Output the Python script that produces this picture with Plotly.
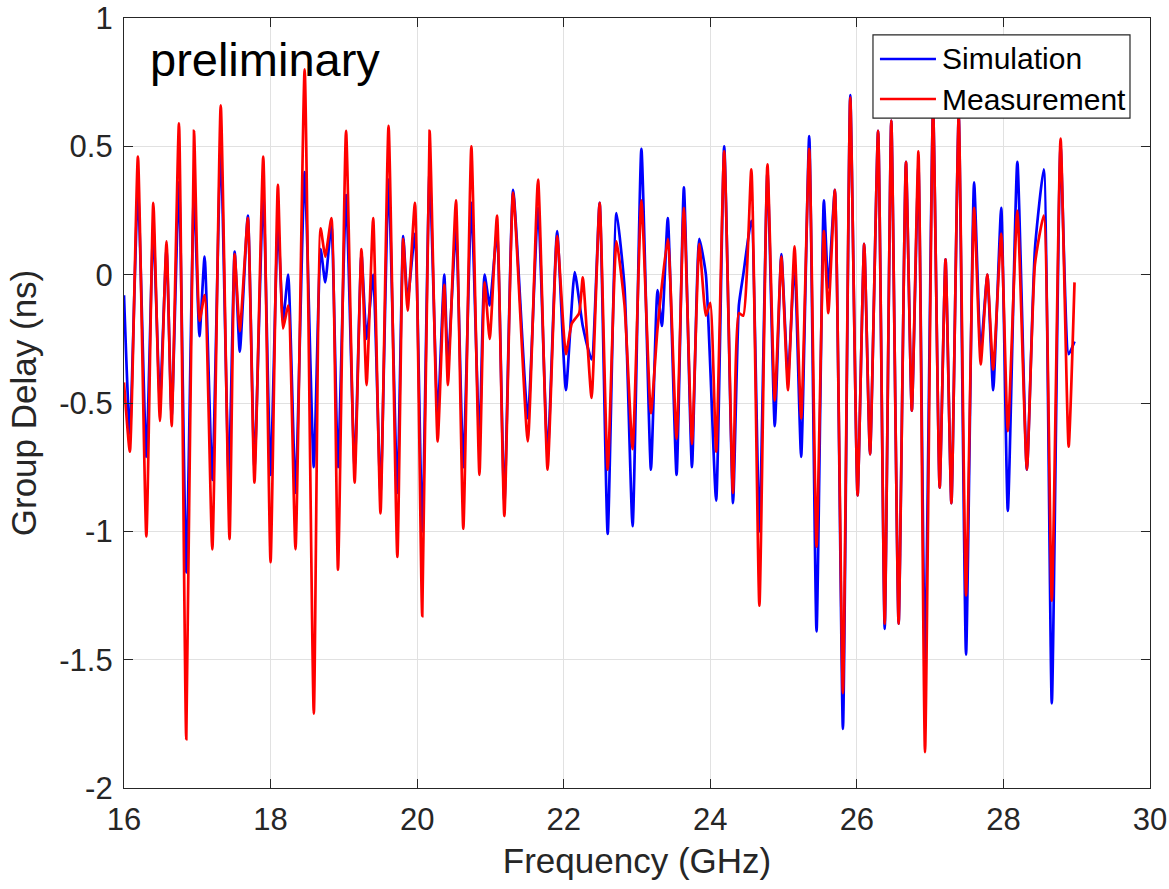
import plotly.graph_objects as go

meas_freq = [16.00, 16.08, 16.19, 16.305, 16.40, 16.49, 16.58, 16.65, 16.75, 16.85, 16.955, 17.03, 17.10, 17.205,
             17.32, 17.44, 17.51, 17.58, 17.69, 17.78, 17.90, 18.00, 18.10, 18.17, 18.24, 18.34, 18.465, 18.59,
             18.683, 18.746, 18.83, 18.92, 19.03, 19.147, 19.24, 19.31, 19.40, 19.50, 19.61, 19.73, 19.81, 19.87,
             19.97, 20.07, 20.17, 20.28, 20.37, 20.42, 20.53, 20.63, 20.74, 20.85, 20.92, 20.99, 21.09, 21.19,
             21.31, 21.51, 21.65, 21.78, 21.91, 22.03, 22.11, 22.21, 22.26, 22.38, 22.49, 22.60, 22.72, 22.83,
             22.94, 23.06, 23.19, 23.28, 23.42, 23.54, 23.64, 23.75, 23.85, 23.94, 24.00, 24.08, 24.19, 24.31,
             24.39, 24.45, 24.56, 24.67, 24.78, 24.88, 24.97, 25.06, 25.15, 25.24, 25.35, 25.45, 25.55, 25.61,
             25.70, 25.81, 25.91, 26.01, 26.10, 26.18, 26.29, 26.38, 26.47, 26.57, 26.67, 26.75, 26.84, 26.93,
             27.04, 27.13, 27.21, 27.29, 27.39, 27.49, 27.60, 27.69, 27.78, 27.86, 27.97, 28.06, 28.19, 28.32,
             28.43, 28.55, 28.66, 28.78, 28.89, 28.97]
meas_delay = [-0.42, -0.69, 0.46, -1.02, 0.28, -0.57, 0.13, -0.59, 0.59, -1.81, 0.56, -0.18, -0.08, -1.07,
              0.66, -1.03, 0.08, -0.22, 0.22, -0.81, 0.46, -1.12, 0.35, -0.21, -0.12, -1.07, 0.80, -1.71,
              0.18, 0.07, 0.22, -1.15, 0.56, -0.81, 0.10, -0.43, 0.22, -0.93, 0.58, -1.10, 0.14, -0.14,
              0.28, -1.33, 0.56, -0.65, -0.04, -0.43, 0.29, -0.99, 0.50, -0.78, -0.03, -0.25, 0.23, -0.94,
              0.32, -0.65, 0.37, -0.76, 0.15, -0.31, -0.19, -0.15, -0.01, -0.48, 0.28, -0.76, 0.13, -0.12,
              -0.68, 0.29, -0.54, -0.21, 0.14, -0.64, 0.26, -0.66, 0.12, -0.16, -0.11, -0.69, 0.48, -0.85,
              -0.15, -0.16, 0.41, -1.29, 0.43, -0.49, 0.07, -0.45, 0.11, -0.56, 0.49, -1.06, 0.17, -0.15,
              0.33, -1.63, 0.69, -0.86, 0.12, -0.70, 0.56, -1.36, 0.60, -1.36, 0.44, -0.53, 0.48, -1.86,
              0.65, -0.83, 0.06, -0.89, 0.62, -1.25, 0.26, -0.35, 0.00, -0.37, 0.16, -0.61, 0.25, -0.76,
              0.04, 0.23, -1.27, 0.53, -0.67, -0.03]

# Simulation (blue) extrema
sim_freq = [16.00, 16.08, 16.19, 16.305, 16.40, 16.49, 16.58, 16.65, 16.75, 16.85, 16.955, 17.03, 17.10, 17.205,
            17.32, 17.43, 17.51, 17.58, 17.69, 17.78, 17.90, 18.00, 18.10, 18.17, 18.24, 18.34, 18.465, 18.59,
            18.683, 18.746, 18.83, 18.92, 19.03, 19.147, 19.24, 19.31, 19.40, 19.50, 19.61, 19.73, 19.81, 19.87,
            19.97, 20.07, 20.17, 20.28, 20.37, 20.42, 20.53, 20.63, 20.74, 20.85, 20.92, 20.99, 21.09, 21.19,
            21.31, 21.51, 21.65, 21.78, 21.91, 22.03, 22.15, 22.26, 22.38, 22.49, 22.60, 22.72, 22.83, 22.94,
            23.06, 23.19, 23.28, 23.34, 23.42, 23.54, 23.64, 23.75, 23.85, 23.94, 24.08, 24.19, 24.31, 24.39,
            24.45, 24.56, 24.67, 24.78, 24.88, 24.97, 25.06, 25.15, 25.24, 25.35, 25.45, 25.55, 25.61, 25.70,
            25.81, 25.91, 26.01, 26.10, 26.18, 26.29, 26.38, 26.47, 26.57, 26.67, 26.75, 26.84, 26.93, 27.04,
            27.13, 27.21, 27.29, 27.39, 27.49, 27.60, 27.69, 27.78, 27.86, 27.97, 28.06, 28.19, 28.32, 28.43,
            28.55, 28.66, 28.78, 28.89, 28.97]
sim_delay = [-0.08, -0.62, 0.33, -0.71, 0.18, -0.49, 0.10, -0.55, 0.36, -1.16, 0.32, -0.24, 0.07, -0.80,
             0.50, -0.80, 0.09, -0.30, 0.23, -0.75, 0.32, -0.78, 0.20, -0.18, 0.00, -0.85, 0.40, -0.75,
             0.10, -0.03, 0.20, -0.75, 0.31, -0.75, 0.08, -0.25, 0.00, -0.85, 0.37, -0.85, 0.15, -0.10,
             0.16, -1.00, 0.40, -0.55, 0.00, -0.35, 0.18, -0.75, 0.28, -0.65, 0.00, -0.12, 0.17, -0.89,
             0.33, -0.56, 0.26, -0.70, 0.17, -0.45, 0.01, -0.20, -0.33, 0.28, -1.01, 0.24, -0.05, -0.98,
             0.49, -0.76, -0.06, -0.20, 0.22, -0.78, 0.34, -0.75, 0.14, 0.00, -0.88, 0.50, -0.89, -0.12,
             0.00, 0.21, -1.00, 0.40, -0.59, 0.08, -0.40, 0.05, -0.71, 0.54, -1.39, 0.29, -0.05, 0.33,
             -1.77, 0.70, -0.86, 0.12, -0.70, 0.56, -1.38, 0.60, -1.36, 0.44, -0.53, 0.42, -1.52, 0.65,
             -0.83, 0.06, -0.89, 0.62, -1.48, 0.36, -0.30, 0.00, -0.45, 0.26, -0.92, 0.44, -0.76, 0.10,
             0.41, -1.67, 0.50, -0.31, -0.26]

x_ticks = [16, 18, 20, 22, 24, 26, 28, 30]
y_ticks = [-2, -1.5, -1, -0.5, 0, 0.5, 1]
y_tick_text = ["-2", "-1.5", "-1", "-0.5", "0", "0.5", "1"]
series_names = ["Simulation", "Measurement"]
series_colors = ["#0000FF", "#FF0000"]

FONT = "Liberation Sans, Arial, sans-serif"
AX = "#262626"

fig = go.Figure()
fig.add_trace(go.Scatter(x=sim_freq, y=sim_delay, mode="lines", name=series_names[0],
                         line=dict(color=series_colors[0], width=2.7, shape="spline", smoothing=0.5)))
fig.add_trace(go.Scatter(x=meas_freq, y=meas_delay, mode="lines", name=series_names[1],
                         line=dict(color=series_colors[1], width=2.7, shape="spline", smoothing=0.5)))

axis_common = dict(showline=True, linecolor=AX, linewidth=1.2, mirror="ticks", ticks="inside",
                   ticklen=9, tickcolor=AX, showgrid=True, gridcolor="#E1E1E1", gridwidth=1,
                   zeroline=False, automargin=False,
                   tickfont=dict(family=FONT, size=31, color=AX))

fig.update_xaxes(range=[16, 30], tickvals=x_ticks, ticklabelstandoff=4,
                 title=dict(text="Frequency (GHz)", font=dict(family=FONT, size=35, color=AX), standoff=12),
                 **axis_common)
fig.update_yaxes(range=[-2, 1], tickvals=y_ticks, ticktext=y_tick_text, ticklabelstandoff=4,
                 title=dict(text="Group Delay (ns)", font=dict(family=FONT, size=35, color=AX), standoff=12),
                 **axis_common)

fig.add_annotation(x=0.0234, y=0.9455, xref="paper", yref="paper", xanchor="left", yanchor="middle",
                   text="preliminary", showarrow=False,
                   font=dict(family=FONT, size=47, color="black"))

# Legend box drawn by hand (MATLAB-style long line samples)
fig.add_shape(type="rect", xref="paper", yref="paper", x0=0.730, x1=0.9805, y0=0.870, y1=0.978,
              fillcolor="white", line=dict(color=AX, width=1.2), layer="above")
leg_y = [0.9468, 0.8948]
for name, col, yy in zip(series_names, series_colors, leg_y):
    fig.add_shape(type="line", xref="paper", yref="paper", x0=0.7368, x1=0.7914, y0=yy, y1=yy,
                  line=dict(color=col, width=2.6), layer="above")
    fig.add_annotation(x=0.7953, y=yy, xref="paper", yref="paper", xanchor="left", yanchor="middle",
                       text=name, showarrow=False, font=dict(family=FONT, size=30, color="black"))

fig.update_layout(
    width=1169, height=889,
    margin=dict(l=124, r=19, t=18, b=101),
    paper_bgcolor="white", plot_bgcolor="white",
    showlegend=False,
)

fig.write_html("out.html")
